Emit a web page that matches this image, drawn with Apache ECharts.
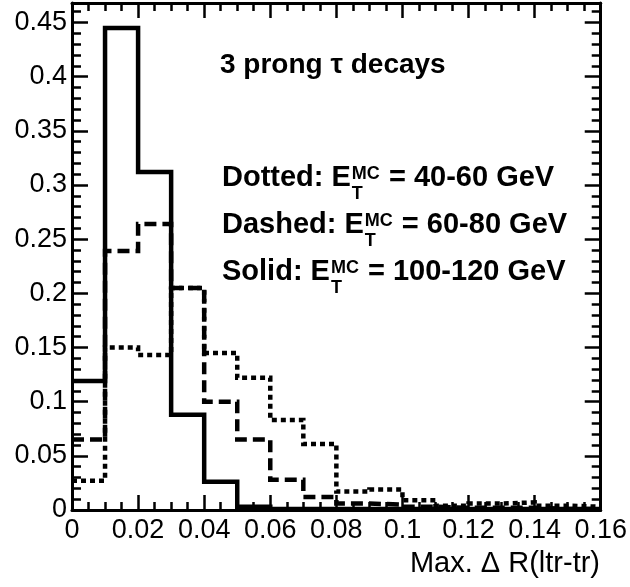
<!DOCTYPE html>
<html><head><meta charset="utf-8">
<script src="https://cdn.jsdelivr.net/npm/echarts@6/dist/echarts.min.js"></script>
<style>html,body{margin:0;padding:0;background:#fff}#c{width:630px;height:587px}</style>
</head><body><div id="c"></div>
<script>
// ---- data ----
const binEdges = [0, 0.01, 0.02, 0.03, 0.04, 0.05, 0.06, 0.07, 0.08, 0.09, 0.10, 0.11, 0.12, 0.13, 0.14, 0.15, 0.16];
const solidValues  = [0.119, 0.445, 0.312, 0.088, 0.026, 0.003, 0.001, 0.001, 0.001, 0.001, 0.001, 0.001, 0.001, 0.001, 0.001, 0.001];
const dashedValues = [0.065, 0.239, 0.264, 0.205, 0.100, 0.065, 0.028, 0.012, 0.006, 0.005, 0.003, 0.002, 0.002, 0.002, 0.001, 0.001];
const dottedValues = [0.027, 0.150, 0.143, 0.205, 0.145, 0.122, 0.083, 0.061, 0.017, 0.019, 0.009, 0.004, 0.006, 0.007, 0.004, 0.003];
const headerText = '3 prong \u03c4 decays';
const rowPrefixes = ['Dotted: E', 'Dashed: E', 'Solid: E'];
const rowSuffixes = [' = 40-60 GeV', ' = 60-80 GeV', ' = 100-120 GeV'];
const supText = 'MC';
const subText = 'T';
const xTitle = 'Max. \u0394 R(ltr-tr)';

// ---- helpers ----
function stepData(vals) {
  const d = [];
  vals.forEach((v, i) => { d.push([binEdges[i], v]); d.push([binEdges[i + 1], v]); });
  return d;
}
const FAM = '"Liberation Sans", Arial, sans-serif';
const mctx = document.createElement('canvas').getContext('2d');
function tw(t, font) { mctx.font = font; return mctx.measureText(t).width; }
function textEl(x, baseline, text, size, bold, align) {
  const font = (bold ? 'bold ' : '') + size + 'px ' + FAM;
  return { type: 'text', z: 100, style: { x: x, y: baseline - 0.3465 * size, text: text, font: font, fill: '#000',
    align: align || 'left', verticalAlign: 'middle' } };
}

const graphics = [];
graphics.push(textEl(220, 75, headerText, 28, true));
const rowBase = [188, 235, 282];
const mainSize = 29, smallSize = 18;
rowPrefixes.forEach((p, i) => {
  const B = rowBase[i];
  const x0 = 222;
  const mainFont = 'bold ' + mainSize + 'px ' + FAM;
  const smallFont = 'bold ' + smallSize + 'px ' + FAM;
  const w1 = tw(p, mainFont);
  graphics.push(textEl(x0, B, p, mainSize, true));
  const xs = x0 + w1 + 1;
  graphics.push(textEl(xs, B - 8, supText, smallSize, true));
  graphics.push(textEl(xs, B + 12, subText, smallSize, true));
  const ws = Math.max(tw(supText, smallFont), tw(subText, smallFont));
  graphics.push(textEl(xs + ws + 1, B, rowSuffixes[i], mainSize, true));
});
graphics.push(textEl(600, 574, xTitle, 29, false, 'right'));

const tickStyle = { color: '#000', width: 2.5 };
function xAx(pos, showLabel) {
  return {
    type: 'value', position: pos, min: 0, max: 0.16, interval: 0.02,
    axisLine: { show: true, onZero: false, lineStyle: { color: '#000', width: 3 } },
    axisTick: { show: true, inside: true, length: 15, lineStyle: tickStyle },
    minorTick: { show: true, splitNumber: 4, length: 8, lineStyle: tickStyle },
    splitLine: { show: false }, minorSplitLine: { show: false },
    axisLabel: { show: showLabel, fontSize: 27, color: '#000', fontFamily: FAM, margin: 7 }
  };
}
function yAx(pos, showLabel) {
  return {
    type: 'value', position: pos, min: 0, max: 0.468, interval: 0.05,
    axisLine: { show: true, onZero: false, lineStyle: { color: '#000', width: 3 } },
    axisTick: { show: true, inside: true, length: 16, lineStyle: tickStyle },
    minorTick: { show: true, splitNumber: 5, length: 9, lineStyle: tickStyle },
    splitLine: { show: false }, minorSplitLine: { show: false },
    axisLabel: { show: showLabel, fontSize: 27, color: '#000', fontFamily: FAM, margin: 5, showMaxLabel: false }
  };
}
function histSeries(vals, type, z) {
  return {
    type: 'line', data: stepData(vals), symbol: 'none', z: z, clip: true, animation: false,
    lineStyle: { color: '#000', width: 4.5, type: type, cap: 'butt', join: 'miter' }
  };
}

const chart = echarts.init(document.getElementById('c'), null, { renderer: 'canvas' });
chart.setOption({
  animation: false,
  backgroundColor: '#fff',
  grid: { left: 72, top: 3, right: 28, bottom: 77, containLabel: false },
  xAxis: [xAx('bottom', true), xAx('top', false)],
  yAxis: [yAx('left', true), yAx('right', false)],
  series: [
    histSeries(dottedValues, [5, 4], 2),
    histSeries(dashedValues, [12, 6], 3),
    histSeries(solidValues, 'solid', 4)
  ],
  graphic: graphics
});
</script></body></html>
